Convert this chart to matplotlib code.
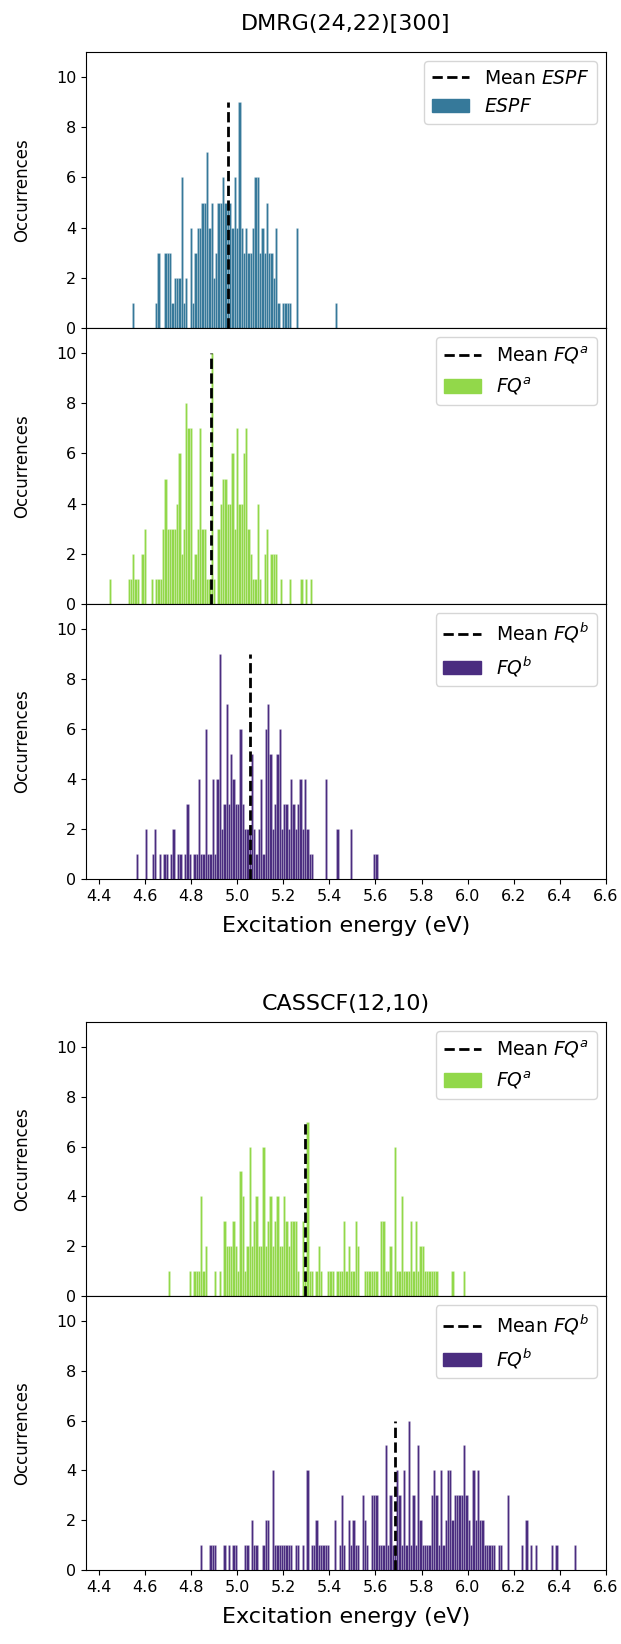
import numpy as np
import matplotlib
matplotlib.use("Agg")
import matplotlib.pyplot as plt
from matplotlib.lines import Line2D
from matplotlib.patches import Patch

# ---------------- data (counts per 0.01 eV bin) ----------------
bin_width = 0.01

espf_start = 4.545
espf_counts = [1, 0, 0, 0, 0, 0, 0, 0, 0, 0, 1, 3, 0, 0, 3, 3, 3, 1, 2, 2,
               2, 6, 1, 2, 0, 4, 1, 3, 4, 4, 5, 5, 7, 4, 5, 2, 3, 5, 5, 6,
               5, 5, 5, 4, 6, 4, 9, 4, 3, 4, 3, 3, 4, 6, 6, 3, 4, 3, 5, 3,
               3, 2, 4, 1, 0, 1, 1, 1, 1, 0, 0, 4, 0, 0, 0, 0, 0, 0, 0, 0,
               0, 0, 0, 0, 0, 0, 0, 0, 1]
espf_mean = 4.96

fqa_dmrg_start = 4.445
fqa_dmrg_counts = [1, 0, 0, 0, 0, 0, 0, 0, 1, 1, 2, 1, 1, 0, 2, 3, 0, 0, 1, 0,
                   1, 1, 1, 3, 5, 3, 3, 3, 3, 4, 6, 2, 3, 8, 7, 7, 1, 2, 3, 7,
                   3, 3, 1, 1, 10, 1, 0, 3, 4, 5, 5, 4, 4, 6, 3, 7, 4, 4, 6, 7,
                   3, 2, 1, 1, 4, 1, 0, 2, 3, 0, 2, 2, 2, 0, 1, 0, 0, 0, 1, 0,
                   0, 0, 0, 1, 0, 1, 0, 1]
fqa_dmrg_mean = 4.886

fqb_dmrg_start = 4.56
fqb_dmrg_counts = [1, 0, 0, 0, 2, 0, 0, 1, 2, 0, 1, 0, 1, 1, 0, 1, 2, 0, 1, 1,
                   0, 1, 3, 1, 0, 1, 1, 4, 1, 1, 6, 1, 1, 4, 1, 4, 9, 2, 3, 7,
                   3, 5, 4, 3, 3, 6, 3, 2, 2, 2, 5, 2, 1, 2, 4, 1, 6, 7, 5, 2,
                   3, 5, 6, 2, 3, 3, 2, 4, 3, 2, 3, 4, 2, 4, 2, 1, 1, 0, 0, 0,
                   0, 0, 4, 0, 0, 0, 0, 2, 0, 0, 0, 0, 0, 2, 0, 0, 0, 0, 0, 0,
                   0, 0, 0, 1, 1]
fqb_dmrg_mean = 5.057

fqa_cas_start = 4.70
fqa_cas_counts = [1, 0, 0, 0, 0, 0, 0, 0, 0, 1, 0, 1, 1, 1, 4, 1, 2, 0, 0, 0,
                  1, 0, 1, 0, 3, 2, 2, 2, 3, 2, 1, 5, 4, 1, 2, 6, 2, 3, 4, 2,
                  2, 6, 2, 3, 4, 2, 3, 4, 2, 2, 4, 3, 2, 3, 3, 3, 1, 0, 3, 1,
                  7, 1, 1, 0, 1, 2, 1, 0, 0, 1, 1, 1, 0, 1, 1, 1, 3, 1, 2, 1,
                  1, 3, 2, 0, 0, 1, 1, 1, 1, 1, 1, 0, 3, 3, 1, 1, 2, 0, 6, 1,
                  1, 4, 1, 1, 1, 3, 1, 3, 1, 2, 2, 1, 1, 1, 1, 1, 1, 0, 0, 0,
                  0, 0, 0, 1, 0, 0, 0, 0, 1]
fqa_cas_mean = 5.296

fqb_cas_start = 4.84
fqb_cas_counts = [1, 0, 0, 0, 1, 1, 1, 0, 0, 0, 1, 0, 1, 0, 1, 1, 0, 0, 0, 1,
                  1, 0, 2, 1, 1, 0, 0, 1, 2, 2, 0, 4, 1, 1, 1, 1, 1, 1, 1, 1,
                  0, 1, 1, 0, 1, 0, 4, 0, 1, 1, 2, 1, 1, 1, 1, 1, 0, 0, 2, 0,
                  1, 3, 1, 0, 2, 1, 2, 1, 1, 0, 3, 2, 1, 0, 3, 3, 3, 1, 1, 1,
                  5, 1, 3, 1, 1, 4, 3, 1, 4, 1, 6, 1, 3, 1, 5, 2, 1, 1, 1, 1,
                  3, 4, 3, 1, 4, 1, 2, 4, 4, 2, 3, 3, 3, 3, 5, 3, 2, 1, 4, 2,
                  4, 2, 2, 1, 1, 1, 1, 1, 0, 1, 1, 0, 0, 3, 0, 0, 0, 0, 0, 1,
                  0, 2, 0, 1, 0, 1, 0, 0, 0, 0, 0, 0, 1, 0, 1, 0, 0, 0, 0, 0,
                  0, 0, 1]
fqb_cas_mean = 5.685

group_titles = ["DMRG(24,22)[300]", "CASSCF(12,10)"]
xticks = [4.4, 4.6, 4.8, 5.0, 5.2, 5.4, 5.6, 5.8, 6.0, 6.2, 6.4, 6.6]
yticks = [0, 2, 4, 6, 8, 10]

c_espf = "#36799a"
c_fqa = "#92d84a"
c_fqb = "#4b2d80"

# ---------------- figure ----------------
W, H = 621, 1644
fig = plt.figure(figsize=(W / 100, H / 100), dpi=100)

left = 86 / W
width = (606 - 86) / W


def add_ax(top_px, bottom_px):
    return fig.add_axes([left, 1 - bottom_px / H, width, (bottom_px - top_px) / H])


panels = [
    (52, 328, espf_start, espf_counts, espf_mean, c_espf, "ESPF", False),
    (328, 604, fqa_dmrg_start, fqa_dmrg_counts, fqa_dmrg_mean, c_fqa, "FQ^a", False),
    (604, 879, fqb_dmrg_start, fqb_dmrg_counts, fqb_dmrg_mean, c_fqb, "FQ^b", True),
    (1022, 1296, fqa_cas_start, fqa_cas_counts, fqa_cas_mean, c_fqa, "FQ^a", False),
    (1296, 1570, fqb_cas_start, fqb_cas_counts, fqb_cas_mean, c_fqb, "FQ^b", True),
]

axes = []
for top, bot, start, counts, mean, col, lab, bottom in panels:
    ax = add_ax(top, bot)
    counts = np.asarray(counts)
    edges = start + bin_width * np.arange(len(counts))
    m = counts > 0
    ax.bar(edges[m], counts[m], width=bin_width, align="edge", color=col,
           edgecolor=(1, 1, 1, 0.3), linewidth=0.4)
    ax.vlines(mean, 0, counts.max(), colors="black", linestyles="--", linewidth=2)
    ax.set_xlim(4.345, 6.6)
    ax.set_ylim(0, 11)
    ax.set_yticks(yticks)
    ax.tick_params(labelsize=11.5)
    ax.set_ylabel("Occurrences", fontsize=12)
    ax.yaxis.set_label_coords(-0.105, 0.5)
    if bottom:
        ax.set_xticks(xticks)
        ax.set_xticklabels([f"{t:.1f}" for t in xticks])
        ax.set_xlabel("Excitation energy (eV)", fontsize=16, labelpad=9)
    else:
        ax.set_xticks([])
    handles = [Line2D([0], [0], color="black", ls="--", lw=2),
               Patch(facecolor=col, edgecolor=col)]
    ax.legend(handles, [f"Mean ${lab}$", f"${lab}$"], loc="upper right", fontsize=13.5)
    axes.append(ax)

fig.text((86 + 606) / 2 / W, 1 - 24 / H, group_titles[0], ha="center", va="center", fontsize=16)
fig.text((86 + 606) / 2 / W, 1 - 1004 / H, group_titles[1], ha="center", va="center", fontsize=16)

fig.savefig("out.png", dpi=100)
